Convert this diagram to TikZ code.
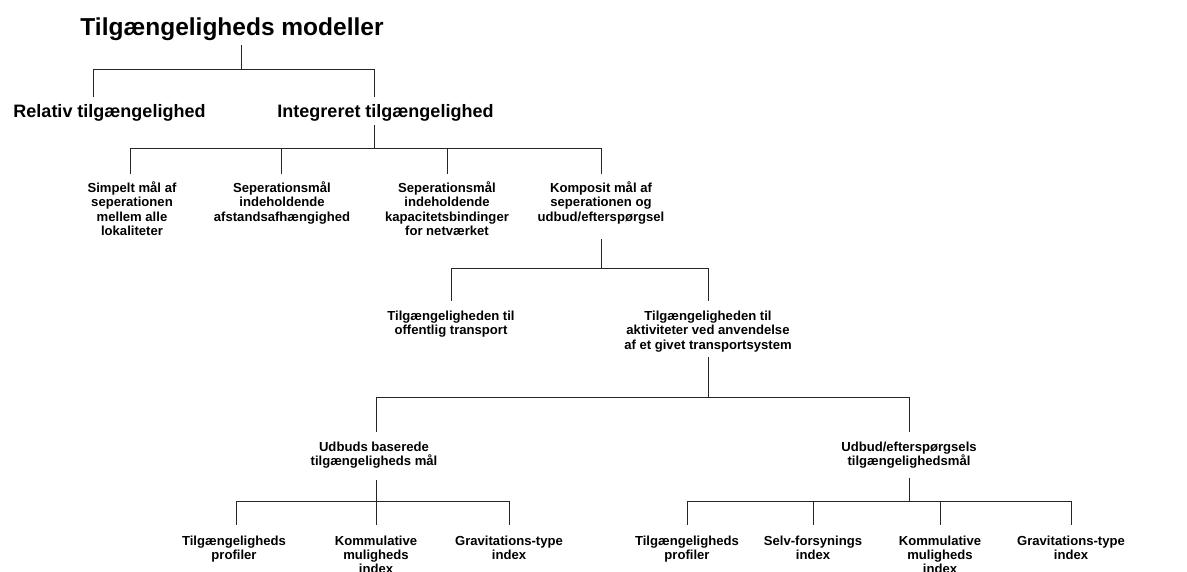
\documentclass[tikz,border=0pt]{standalone}
\usepackage{fontspec}
\setmainfont{Liberation Sans}
\usetikzlibrary{calc}
\begin{document}
\begin{tikzpicture}[x=1pt,y=-1pt,
  head/.style={anchor=base, inner sep=0pt, font=\bfseries\fontsize{24.5}{28}\selectfont},
  sub/.style={anchor=base, inner sep=0pt, font=\bfseries\fontsize{18}{21}\selectfont},
  lbl/.style={anchor=base, inner sep=0pt, align=center, font=\bfseries\fontsize{13.1}{14.2}\selectfont},
  link/.style={draw=black!85, line width=1pt}]
\useasboundingbox (0,0) rectangle (1187,572);
\clip (0,0) rectangle (1187,572);

% ---- nodes (positioned by the baseline of their last line) ----
\node[head] (title) at (232,35.5) {Tilgængeligheds modeller};
\node[sub] (rel) at (109.5,118) {Relativ tilgængelighed};
\node[sub] (int) at (385.5,118) {Integreret tilgængelighed};

\node[lbl] (simp) at (132,235.3) {Simpelt mål af\\seperationen\\mellem alle\\lokaliteter};
\node[lbl] (afst) at (282,221.1) {Seperationsmål\\indeholdende\\afstandsafhængighed};
\node[lbl] (kapa) at (447,235.3) {Seperationsmål\\indeholdende\\kapacitetsbindinger\\for netværket};
\node[lbl] (komp) at (601,221.1) {Komposit mål af\\seperationen og\\udbud/efterspørgsel};

\node[lbl] (offt) at (451,334.9) {Tilgængeligheden til\\offentlig transport};
\node[lbl] (akt) at (708,349.1) {Tilgængeligheden til\\aktiviteter ved anvendelse\\af et givet transportsystem};

\node[lbl] (udb) at (374,465.7) {Udbuds baserede\\tilgængeligheds mål};
\node[lbl] (udef) at (909,465.7) {Udbud/efterspørgsels\\tilgængelighedsmål};

\node[lbl] (a1) at (234,559.5) {Tilgængeligheds\\profiler};
\node[lbl] (a2) at (376,573.7) {Kommulative\\muligheds\\index};
\node[lbl] (a3) at (509,559.5) {Gravitations-type\\index};
\node[lbl] (b1n) at (687,559.5) {Tilgængeligheds\\profiler};
\node[lbl] (b2n) at (813,559.5) {Selv-forsynings\\index};
\node[lbl] (b3n) at (940,573.7) {Kommulative\\muligheds\\index};
\node[lbl] (b4n) at (1071,559.5) {Gravitations-type\\index};

% ---- junction points of the tree ----
\coordinate (j0) at ($(title.base)+(9,34.5)$);
\coordinate (j1) at ($(int.base)+(-11.5,31)$);
\coordinate (j2) at ($(komp.base)+(0,47.9)$);
\coordinate (j3) at ($(akt.base)+(0,47.9)$);
\coordinate (j4) at ($(udb.base)+(2,35.3)$);
\coordinate (j5) at ($(udef.base)+(0,35.3)$);

% ---- connectors ----
\draw[link] ($(title.base)+(9,9.5)$) -- (j0);
\draw[link] (j0) -| ($(rel.base)+(-16.5,-21)$);
\draw[link] (j0) -| ($(int.base)+(-11.5,-21)$);

\draw[link] ($(int.base)+(-11.5,7)$) -- (j1);
\draw[link] (j1) -| ($(simp.base)+(-2,-61.3)$);
\draw[link] (j1) -| ($(afst.base)+(-0.5,-47.1)$);
\draw[link] (j1) -| ($(kapa.base)+(0,-61.3)$);
\draw[link] (j1) -| ($(komp.base)+(0,-47.1)$);

\draw[link] ($(komp.base)+(0,18.4)$) -- (j2);
\draw[link] (j2) -| ($(offt.base)+(0,-33.9)$);
\draw[link] (j2) -| ($(akt.base)+(0,-48.1)$);

\draw[link] ($(akt.base)+(0,7.9)$) -- (j3);
\draw[link] (j3) -| ($(udb.base)+(2,-34.2)$);
\draw[link] (j3) -| ($(udef.base)+(0,-34.2)$);

\draw[link] ($(udb.base)+(2,14.3)$) -- (j4);
\draw[link] (j4) -| ($(a1.base)+(2,-34.5)$);
\draw[link] (j4) -| ($(a2.base)+(0,-48.7)$);
\draw[link] (j4) -| ($(a3.base)+(0,-34.5)$);

\draw[link] ($(udef.base)+(0,12.3)$) -- (j5);
\draw[link] (j5) -| ($(b1n.base)+(0,-34.5)$);
\draw[link] (j5) -| ($(b2n.base)+(0,-34.5)$);
\draw[link] (j5) -| ($(b3n.base)+(0,-48.7)$);
\draw[link] (j5) -| ($(b4n.base)+(0,-34.5)$);
\end{tikzpicture}
\end{document}
